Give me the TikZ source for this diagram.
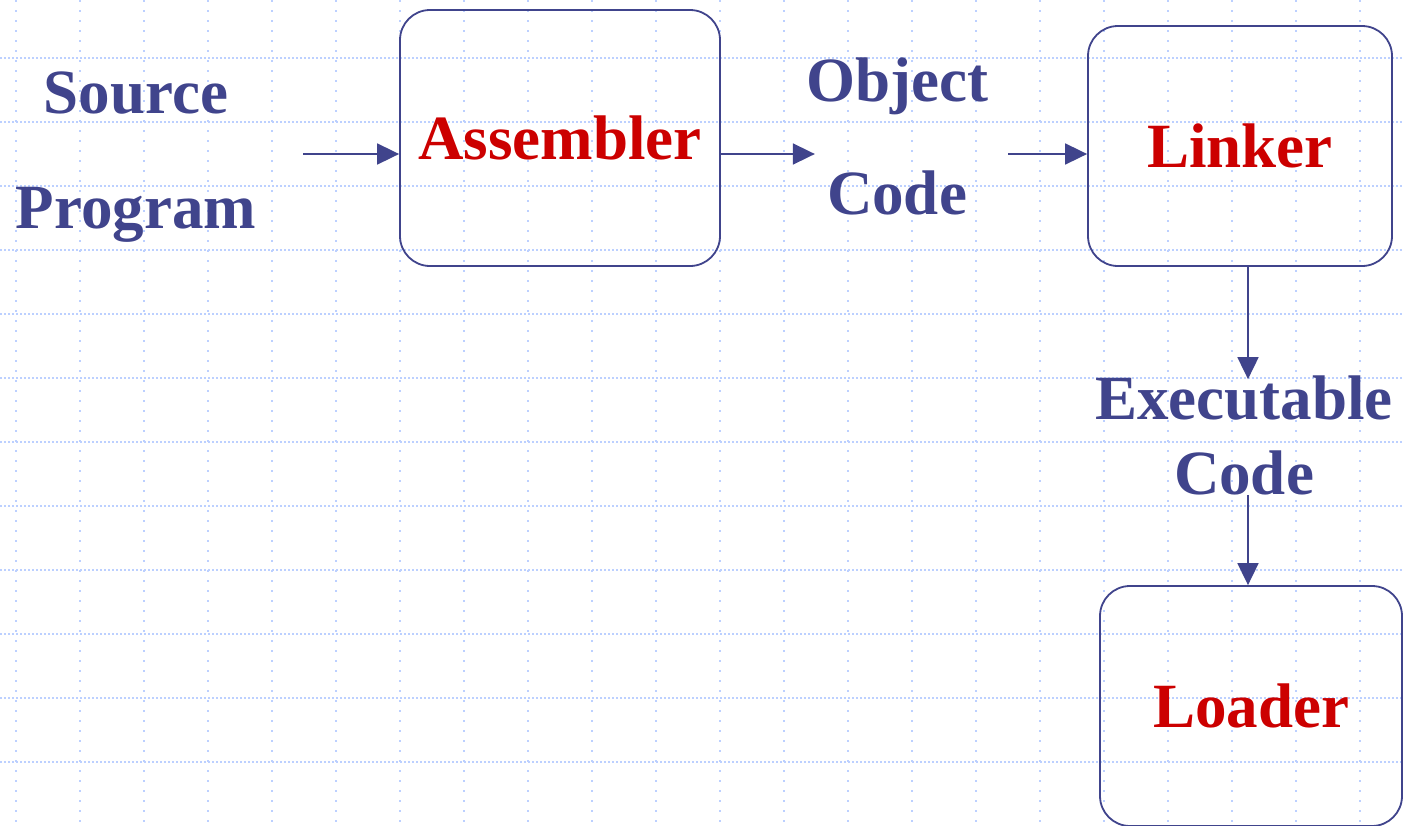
\documentclass[tikz,border=0pt]{standalone}
\usepackage{fontspec}
\setmainfont{Liberation Serif}
\usetikzlibrary{positioning,arrows.meta}

\definecolor{ink}{RGB}{64,68,140}
\definecolor{hot}{RGB}{204,0,0}
\definecolor{rule}{RGB}{188,208,255}

\tikzset{
	stage/.style={draw=ink, line width=1.8pt, rounded corners=30pt, text=hot,
		font=\fontsize{63}{70}\selectfont\bfseries},
	term/.style={text=ink, align=center, inner sep=0pt},
	flow/.style={draw=ink, line width=1.8pt, -{Triangle[length=22pt,width=21pt]}},
	hrule/.style={draw=rule, line width=1.3pt, dash pattern=on 2pt off 2pt},
	vrule/.style={draw=rule, line width=1.3pt, dash pattern=on 2pt off 8pt},
}

\begin{document}
\begin{tikzpicture}[x=1pt, y=-1pt]
	\clip (0,0) rectangle (1403,825);
	\fill [white] (0,0) rectangle (1403,825);
	\foreach \gy in {58,122,...,762}
		\draw [hrule] (0,\gy) -- (1403,\gy);
	\foreach \gx in {16,80,...,1360}
		\draw [vrule] (\gx,0) -- (\gx,825);

	\node [stage, minimum width=320pt, minimum height=256pt] (asm) at (560,138) {Assembler};
	\node [stage, minimum width=304pt, minimum height=240pt] (lnk) at (1240,146) {Linker};
	\node [stage, minimum width=302pt, minimum height=240pt] (ldr) at (1251,706) {Loader};

	\node [term, font=\fontsize{63}{115}\selectfont\bfseries] (src) at (136,157) {Source\\Program};
	\node [term, font=\fontsize{63}{113}\selectfont\bfseries] (obj) at (897,136) {Object\\Code};
	\node [term, font=\fontsize{63}{75}\selectfont\bfseries] (exe) at (1244,435) {Executable\\Code};

	\coordinate (row) at (0,154);
	\coordinate (col) at (1248,0);

	\draw [flow, shorten <=47pt] (src.east |- row) -- (asm.west |- row);
	\draw [flow, shorten >=-9pt] (asm.east |- row) -- (obj.west |- row);
	\draw [flow, shorten <=20pt] (obj.east |- row) -- (lnk.west |- row);
	\draw [flow, shorten >=-4pt] (lnk.south -| col) -- (exe.north -| col);
	\draw [flow] (exe.south -| col) -- (ldr.north -| col);
\end{tikzpicture}
\end{document}
